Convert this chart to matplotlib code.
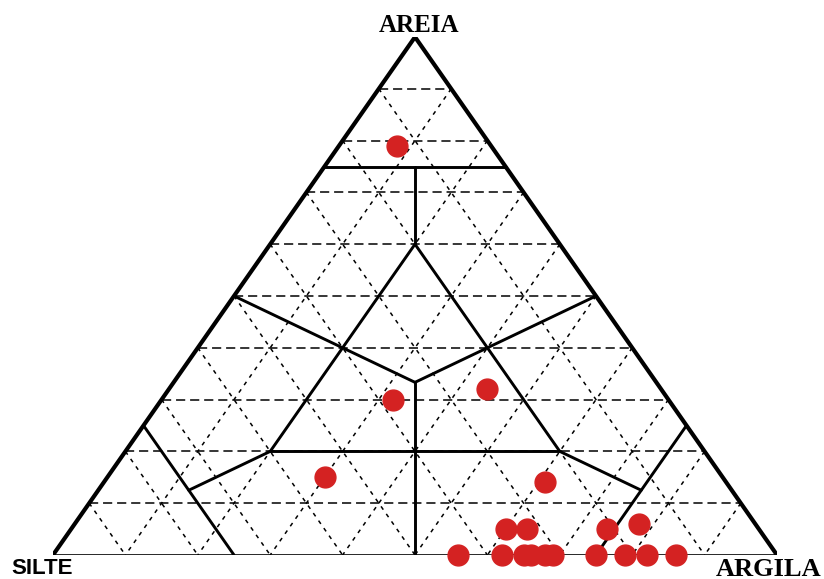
import matplotlib.pyplot as plt
import numpy as np

# amostras (% areia, % silte, % argila)
areia = [79, 30, 32, 15, 14, 5, 5, 5, 6, 0, 0, 0, 0, 0, 0, 0, 0, 0, 0]
silte = [13, 38, 24, 55, 25, 35, 32, 21, 16, 44, 38, 35, 34, 32, 31, 25, 21, 18, 14]
argila = [8, 32, 44, 30, 61, 60, 63, 74, 78, 56, 62, 65, 66, 68, 69, 75, 79, 82, 86]

vertices = ['AREIA', 'SILTE', 'ARGILA']

# limites das classes (Shepard), pares de composicoes
c3 = 100 / 3
limites = [
    [(75, 25, 0), (75, 0, 25)],
    [(25, 75, 0), (0, 75, 25)],
    [(25, 0, 75), (0, 25, 75)],
    [(60, 20, 20), (20, 60, 20)],
    [(20, 60, 20), (20, 20, 60)],
    [(20, 20, 60), (60, 20, 20)],
    [(60, 20, 20), (75, 12.5, 12.5)],
    [(20, 60, 20), (12.5, 75, 12.5)],
    [(20, 20, 60), (12.5, 12.5, 75)],
    [(50, 50, 0), (c3, c3, c3)],
    [(50, 0, 50), (c3, c3, c3)],
    [(0, 50, 50), (c3, c3, c3)],
]


def to_xy(sand, silt, clay):
    tot = np.asarray(sand, float) + np.asarray(silt, float) + np.asarray(clay, float)
    s = np.asarray(sand, float) / tot
    c = np.asarray(clay, float) / tot
    return c + 0.5 * s, s


def seg(ax, p, q, **kw):
    x0, y0 = to_xy(*p)
    x1, y1 = to_xy(*q)
    ax.plot([x0, x1], [y0, y1], **kw)


W, H = 824, 579
fig = plt.figure(figsize=(W / 100, H / 100), dpi=100)
ax = fig.add_axes([53 / W, (H - 555) / H, 724 / W, 518 / H])
ax.set_xlim(0, 1)
ax.set_ylim(0, 1)
ax.axis('off')

# grade tracejada a cada 10%
for k in range(10, 100, 10):
    r = 100 - k
    seg(ax, (k, r, 0), (k, 0, r), color='black', lw=1.1, ls=(0, (6, 3.2)), zorder=1)
    seg(ax, (r, k, 0), (0, k, r), color='black', lw=1.1, ls=(0, (2.6, 3.4)), zorder=1)
    seg(ax, (r, 0, k), (0, r, k), color='black', lw=1.1, ls=(0, (2.6, 3.4)), zorder=1)

# limites das classes
for p, q in limites:
    seg(ax, p, q, color='black', lw=2.1, zorder=2, solid_capstyle='round')

# contorno
seg(ax, (0, 100, 0), (100, 0, 0), color='black', lw=3.0, zorder=2, solid_capstyle='round')
seg(ax, (100, 0, 0), (0, 0, 100), color='black', lw=3.0, zorder=2, solid_capstyle='round')
seg(ax, (0, 100, 0), (0, 0, 100), color='black', lw=1.9, zorder=2)

# amostras
x, y = to_xy(areia, silte, argila)
ax.plot(x, y, 'o', ms=15, color='#d42222', mec='#d42222', zorder=3, clip_on=False)

# rotulos dos vertices
fig.text(419 / W, 1 - 25 / H, vertices[0], ha='center', va='center',
         family='Liberation Serif', weight='bold', fontsize=18)
fig.text(11 / W, 1 - 568 / H, vertices[1], ha='left', va='center',
         family='Liberation Sans', weight='bold', fontsize=16)
fig.text(822 / W, 1 - 569 / H, vertices[2], ha='right', va='center',
         family='Liberation Serif', weight='bold', fontsize=19)

plt.savefig('out.png', dpi=100)
